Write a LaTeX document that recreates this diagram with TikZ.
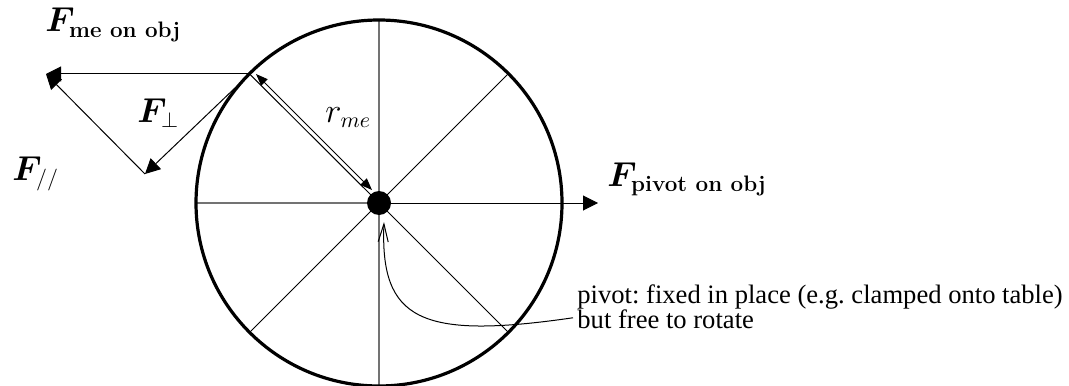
\documentclass[tikz,border=0pt]{standalone}
\usepackage{amsmath,amssymb,bm}
\usepackage{fontspec}
\newfontfamily\timesfont{Liberation Serif}
\usetikzlibrary{arrows.meta,calc}
\begin{document}
\frenchspacing
\begin{tikzpicture}[x=0.5pt,y=-0.5pt,
  lbl/.style={inner sep=0pt,anchor=base west,font=\fontsize{16}{19}\selectfont},
  note/.style={inner sep=0pt,anchor=base west,font=\timesfont\fontsize{13.3}{15}\selectfont},
  spoke/.style={line width=0.5pt},
  gspoke/.style={line width=0.6pt,black!55},
  force/.style={line width=0.5pt,-{Triangle[length=7.5pt,width=7.5pt]}},
  rad/.style={line width=0.5pt,{Triangle[length=6pt,width=4.5pt]}-{Triangle[length=6pt,width=4.5pt]}},
  wheel/.style={line width=1.6pt}]
\useasboundingbox (0,0) rectangle (1069,385);
\clip (0,0) rectangle (1069,385);
% geometry
\coordinate (c) at (379,203);
\coordinate (P) at (249.6,74);
\coordinate (TR) at (508.4,73.6);
\coordinate (BL) at (249.6,332.4);
\coordinate (BR) at (508.4,332.4);
\coordinate (top) at (379,20);
\coordinate (bot) at (379,390);
\coordinate (lft) at (196,203);
\coordinate (pv) at (598,203);
\coordinate (T) at (46,74);
\coordinate (Q) at (145,174);
\coordinate (ra) at (256,74);
\coordinate (rb) at (372,190);
% spokes
\draw[gspoke] (top) -- (bot);
\draw[gspoke] (lft) -- (c);
\draw[spoke] (P) -- (c);
\draw[spoke] (TR) -- (c);
\draw[spoke] (BL) -- (c);
\draw[spoke] (BR) -- (c);
% wheel
\draw[wheel] (c) circle[radius=183];
% forces
\draw[force] (P) -- (T);
\draw[force] (P) -- (Q);
\draw[force] (Q) -- (T);
\draw[force] (c) -- (pv);
\draw[rad] (ra) -- (rb);
% pivot
\fill (c) circle[radius=12];
% labels
\node[lbl] (fme) at (45,32) {$\bm{F}_{\textbf{me on obj}}$};
\node[lbl] (fperp) at (137,122) {$\bm{F}_{\perp}$};
\node[lbl] (fpar) at (12,180) {$\bm{F}_{//}$};
\node[lbl] (rme) at (325,122) {$r_{me}$};
\node[lbl] (fpiv) at (607,186) {$\bm{F}_{\textbf{pivot on obj}}$};
\node[note] (n1) at (577,303) {pivot: fixed in place (e.g.\ clamped onto table)};
\node[note] (n2) at (577,328) {but free to rotate};
\coordinate (tipc) at (384,222);
\draw[line width=0.5pt,-{Straight Barb[length=9pt,width=5pt]}] ([xshift=-2pt,yshift=0.5pt]n2.west) .. controls (420,340) and (380,320) .. (tipc);
\end{tikzpicture}
\end{document}
